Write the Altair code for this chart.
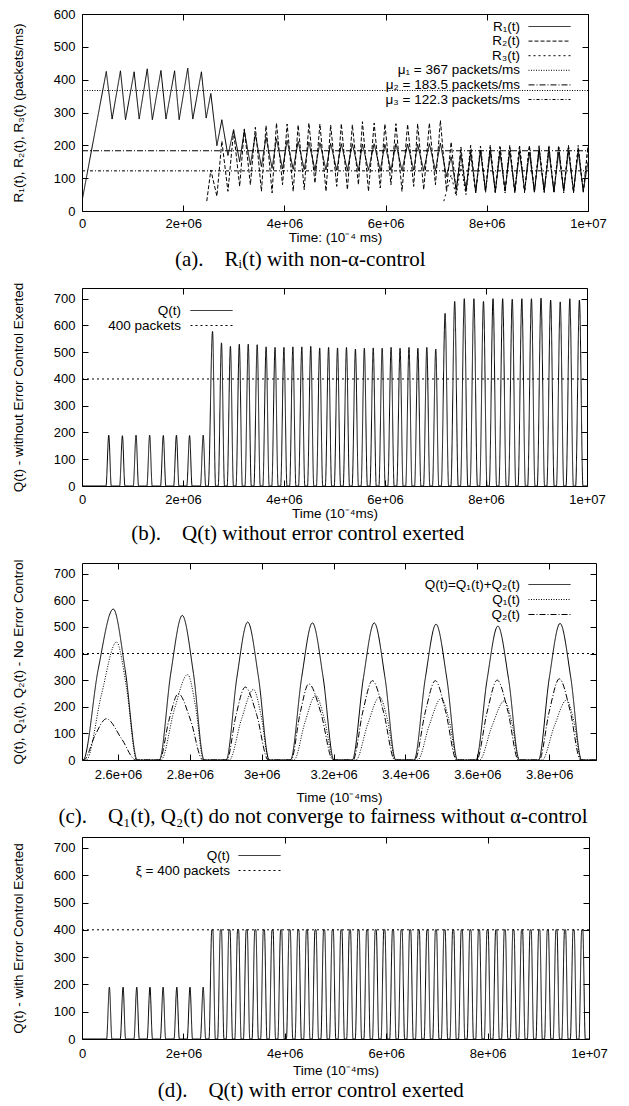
import altair as alt
import pandas as pd

SANS = "Liberation Sans"
SERIF = "Liberation Serif"
NEG_TICK = {"expr": "-6"}
LABEL_EXPR = "datum.value == 0 ? '0' : (datum.value == 10 ? '1e+07' : datum.value + 'e+06')"

# ---------------- (a)  R_i(t) with non-alpha-control  (time in units of 1e6) ----------------
A_T1 = [0.0, 0.48, 0.595, 0.76, 0.86, 1.03, 1.13, 1.29, 1.39, 1.56, 1.66, 1.83, 1.92, 2.09, 2.19, 2.36, 2.454]
A_T2 = [2.546, 2.666, 2.764, 2.884, 2.996, 3.116, 3.208, 3.328, 3.426, 3.546, 3.637, 3.757, 3.843, 3.963,
        4.054, 4.174, 4.272, 4.392, 4.484, 4.604, 4.702, 4.822, 4.914, 5.034, 5.125, 5.245, 5.343, 5.463,
        5.542, 5.662, 5.774, 5.894, 5.986, 6.106, 6.204, 6.324, 6.435, 6.555, 6.633, 6.753, 6.865, 6.985,
        7.083, 7.203]
A_T3 = [7.295, 7.395, 7.488, 7.588, 7.681, 7.781, 7.875, 7.975, 8.068, 8.168, 8.261, 8.361, 8.454, 8.554,
        8.647, 8.747, 8.841, 8.941, 9.034, 9.134, 9.227, 9.327, 9.420, 9.520, 9.614, 9.714, 9.807, 9.907, 10.0]

A_R1_V1 = [30, 425, 280, 427, 278, 424, 280, 433, 278, 428, 280, 427, 278, 435, 280, 424, 283]
A_R1_V2 = [358, 199, 278, 169, 248, 150, 245, 140, 232, 135, 225, 130, 220, 128, 215, 127, 212, 126, 210, 125,
           208, 125, 206, 124, 205, 124, 205, 123, 204, 124, 205, 123, 203, 124, 205, 123, 204, 124, 203, 123,
           205, 124, 207, 105]
A_R1_V3 = [165, 65, 172, 62, 180, 60, 182, 62, 180, 60, 178, 62, 182, 60, 180, 62, 178, 60, 182, 62, 180, 60,
           178, 62, 182, 60, 180, 62, 150]

A_R2_START_T = 2.466
A_R2_START_V = 30
A_R2_V2 = [125, 45, 213, 60, 243, 75, 250, 80, 255, 60, 260, 55, 268, 80, 265, 60, 262, 65, 268, 85, 265, 60,
           262, 75, 266, 65, 263, 80, 272, 60, 268, 70, 265, 80, 266, 60, 264, 75, 266, 65, 268, 80, 276, 62]
A_R2_V3 = [210, 55, 195, 58, 200, 55, 198, 60, 200, 55, 195, 58, 200, 55, 198, 60, 200, 55, 196, 58, 200, 55,
           198, 60, 200, 55, 195, 58, 200]

A_R3_START_T = 7.15
A_R3_START_V = 30
A_R3_V3 = [110, 45, 140, 50, 170, 55, 185, 55, 195, 58, 200, 55, 195, 58, 200, 55, 198, 58, 200, 55, 195, 58,
           200, 55, 198, 58, 200, 55, 195]

A_NAMES = ["R₁(t)", "R₂(t)", "R₃(t)", "μ₁ = 367 packets/ms", "μ₂ = 183.5 packets/ms", "μ₃ = 122.3 packets/ms"]
A_MU = [367, 183.5, 122.3]
A_DASHES = [[1, 0], [4, 2], [2, 3], [1, 1.5], [6, 2, 1, 2], [3, 2, 1, 2]]

# ---------------- (b)  Q(t) without error control ----------------
B_START = [0.475, 0.745, 1.015, 1.285, 1.555, 1.815, 2.075, 2.345,
           2.500, 2.697, 2.874, 3.050, 3.227, 3.404, 3.581, 3.758, 3.934, 4.111, 4.288, 4.465, 4.642, 4.818,
           4.995, 5.172, 5.349, 5.526, 5.702, 5.879, 6.056, 6.233, 6.410, 6.586, 6.763, 6.940,
           7.115, 7.305, 7.495, 7.685, 7.875, 8.065, 8.255, 8.445, 8.635, 8.825, 9.015, 9.205, 9.395, 9.585, 9.775]
B_PEAK_T = [0.53, 0.80, 1.07, 1.34, 1.61, 1.87, 2.13, 2.40,
            2.585, 2.762, 2.939, 3.115, 3.292, 3.469, 3.646, 3.823, 3.999, 4.176, 4.353, 4.530, 4.707, 4.883,
            5.060, 5.237, 5.414, 5.591, 5.767, 5.944, 6.121, 6.298, 6.475, 6.651, 6.828, 7.005,
            7.19, 7.38, 7.57, 7.76, 7.95, 8.14, 8.33, 8.52, 8.71, 8.90, 9.09, 9.28, 9.47, 9.66, 9.85]
B_PEAK_V = [190, 188, 190, 190, 189, 190, 189, 190,
            578, 535, 522, 530, 530, 528, 520, 518, 518, 520, 520, 522, 516, 518, 516, 518, 512, 515, 516, 515,
            518, 515, 518, 515, 518, 512,
            645, 690, 700, 700, 690, 700, 700, 698, 700, 700, 702, 695, 688, 700, 695]
B_END = [0.58, 0.85, 1.12, 1.39, 1.66, 1.92, 2.18, 2.45,
         2.645, 2.822, 2.999, 3.175, 3.352, 3.529, 3.706, 3.883, 4.059, 4.236, 4.413, 4.590, 4.767, 4.943,
         5.120, 5.297, 5.474, 5.651, 5.827, 6.004, 6.181, 6.358, 6.535, 6.711, 6.888, 7.065,
         7.26, 7.45, 7.64, 7.83, 8.02, 8.21, 8.40, 8.59, 8.78, 8.97, 9.16, 9.35, 9.54, 9.73, 9.92]
B_NAMES = ["Q(t)", "400 packets"]
B_REF = 400

# ---------------- (c)  Q1, Q2 zoom ----------------
C_Q_T = [2.5,
         2.503, 2.545, 2.587, 2.620, 2.654, 2.715, 2.747, 2.779, 2.810, 2.840,
         2.901, 2.931, 2.961, 2.991, 3.021, 3.080, 3.111, 3.141, 3.171, 3.201,
         3.252, 3.283, 3.313, 3.343, 3.373, 3.424, 3.455, 3.485, 3.515, 3.545,
         3.596, 3.627, 3.657, 3.687, 3.717, 3.770, 3.800, 3.830, 3.860, 3.890,
         3.93]
C_Q_V = [0,
         0, 340, 567, 340, 0, 0, 326, 543, 326, 0,
         0, 311, 518, 311, 0, 0, 309, 515, 309, 0,
         0, 309, 515, 309, 0, 0, 306, 510, 306, 0,
         0, 302, 503, 302, 0, 0, 308, 513, 308, 0,
         0]
C_Q1_T = [2.5,
          2.512, 2.554, 2.596, 2.624, 2.652, 2.720, 2.757, 2.794, 2.816, 2.838,
          2.910, 2.943, 2.977, 2.998, 3.020, 3.090, 3.120, 3.150, 3.175, 3.200,
          3.262, 3.295, 3.328, 3.350, 3.372, 3.434, 3.466, 3.499, 3.522, 3.544,
          3.606, 3.640, 3.675, 3.696, 3.716, 3.780, 3.814, 3.848, 3.869, 3.889,
          3.93]
C_Q1_V = [0,
          0, 245, 443, 270, 0, 0, 190, 321, 200, 0,
          0, 150, 265, 170, 0, 0, 140, 243, 150, 0,
          0, 135, 237, 150, 0, 0, 130, 231, 145, 0,
          0, 125, 222, 140, 0, 0, 127, 225, 142, 0,
          0]
C_Q2_T = [2.5,
          2.505, 2.537, 2.568, 2.610, 2.650, 2.716, 2.742, 2.768, 2.802, 2.836,
          2.903, 2.928, 2.954, 2.986, 3.018, 3.082, 3.106, 3.131, 3.165, 3.198,
          3.254, 3.281, 3.308, 3.339, 3.370, 3.426, 3.455, 3.483, 3.512, 3.542,
          3.598, 3.627, 3.655, 3.685, 3.714, 3.772, 3.800, 3.828, 3.858, 3.887,
          3.93]
C_Q2_V = [0,
          0, 95, 155, 80, 0, 0, 150, 249, 150, 0,
          0, 165, 274, 170, 0, 0, 170, 286, 175, 0,
          0, 180, 298, 180, 0, 0, 180, 298, 180, 0,
          0, 180, 300, 182, 0, 0, 183, 305, 185, 0,
          0]
C_NAMES = ["Q(t)=Q₁(t)+Q₂(t)", "Q₁(t)", "Q₂(t)"]
C_DASHES = [[1, 0], [1, 1.5], [6, 2, 1, 2]]
C_RANGE = [2.5, 3.93]
C_REF = 400

# ---------------- (d)  Q(t) with error control ----------------
D_SMALL_START = [0.485, 0.755, 1.025, 1.285, 1.545, 1.815, 2.075, 2.335]
D_SMALL_PEAK_T = [0.54, 0.81, 1.08, 1.34, 1.60, 1.87, 2.13, 2.39]
D_SMALL_PEAK_V = [190, 190, 190, 190, 190, 190, 190, 190]
D_SMALL_END = [0.59, 0.86, 1.13, 1.39, 1.65, 1.92, 2.18, 2.44]
D_UP = [2.505, 2.675, 2.844, 3.014, 3.184, 3.354, 3.523, 3.693, 3.863, 4.032, 4.202, 4.372, 4.541, 4.711,
        4.881, 5.051, 5.220, 5.390, 5.560, 5.729, 5.899, 6.069, 6.238, 6.408, 6.578, 6.748, 6.917, 7.087,
        7.257, 7.426, 7.596, 7.766, 7.935, 8.105, 8.275, 8.445, 8.614, 8.784, 8.954, 9.123, 9.293, 9.463,
        9.632, 9.802]
D_TOP_IN = [2.560, 2.730, 2.899, 3.069, 3.239, 3.409, 3.578, 3.748, 3.918, 4.087, 4.257, 4.427, 4.596, 4.766,
            4.936, 5.106, 5.275, 5.445, 5.615, 5.784, 5.954, 6.124, 6.293, 6.463, 6.633, 6.803, 6.972, 7.142,
            7.312, 7.481, 7.651, 7.821, 7.990, 8.160, 8.330, 8.500, 8.669, 8.839, 9.009, 9.178, 9.348, 9.518,
            9.687, 9.857]
D_TOP_OUT = [2.580, 2.750, 2.919, 3.089, 3.259, 3.429, 3.598, 3.768, 3.938, 4.107, 4.277, 4.447, 4.616, 4.786,
             4.956, 5.126, 5.295, 5.465, 5.635, 5.804, 5.974, 6.144, 6.313, 6.483, 6.653, 6.823, 6.992, 7.162,
             7.332, 7.501, 7.671, 7.841, 8.010, 8.180, 8.350, 8.520, 8.689, 8.859, 9.029, 9.198, 9.368, 9.538,
             9.707, 9.877]
D_DOWN = [2.630, 2.800, 2.969, 3.139, 3.309, 3.479, 3.648, 3.818, 3.988, 4.157, 4.327, 4.497, 4.666, 4.836,
          5.006, 5.176, 5.345, 5.515, 5.685, 5.854, 6.024, 6.194, 6.363, 6.533, 6.703, 6.873, 7.042, 7.212,
          7.382, 7.551, 7.721, 7.891, 8.060, 8.230, 8.400, 8.570, 8.739, 8.909, 9.079, 9.248, 9.418, 9.588,
          9.757, 9.927]
D_XI = 400
D_NAMES = ["Q(t)", "ξ = 400 packets"]

T_RANGE = [0, 10]
T_TICKS = [0, 2, 4, 6, 8, 10]
C_TICKS = [2.6, 2.8, 3.0, 3.2, 3.4, 3.6, 3.8]
Y_TICKS_A = [0, 100, 200, 300, 400, 500, 600]
Y_TICKS_Q = [0, 100, 200, 300, 400, 500, 600, 700]
SOLID_DOTTED = [[1, 0], [2, 3]]


# ---------------- build tables ----------------
def rows(name, ts, vs):
    return [{"series": name, "t": t, "v": v} for t, v in zip(ts, vs)]


a_rows = []
a_rows += rows(A_NAMES[0], A_T1 + A_T2 + A_T3, A_R1_V1 + A_R1_V2 + A_R1_V3)
a_rows += rows(A_NAMES[1], [A_R2_START_T] + A_T2 + A_T3, [A_R2_START_V] + A_R2_V2 + A_R2_V3)
a_rows += rows(A_NAMES[2], [A_R3_START_T] + A_T3, [A_R3_START_V] + A_R3_V3)
for name, mu in zip(A_NAMES[3:], A_MU):
    a_rows += rows(name, T_RANGE, [mu, mu])
df_a = pd.DataFrame(a_rows)

b_t, b_v = [T_RANGE[0]], [0]
for s, pt, pv, e in zip(B_START, B_PEAK_T, B_PEAK_V, B_END):
    b_t += [s, pt, e]
    b_v += [0, pv, 0]
b_t.append(T_RANGE[1])
b_v.append(0)
df_b = pd.DataFrame(rows(B_NAMES[0], b_t, b_v) + rows(B_NAMES[1], T_RANGE, [B_REF, B_REF]))

df_c = pd.DataFrame(rows(C_NAMES[0], C_Q_T, C_Q_V) + rows(C_NAMES[1], C_Q1_T, C_Q1_V)
                    + rows(C_NAMES[2], C_Q2_T, C_Q2_V))
df_c_ref = pd.DataFrame(rows("ref", C_RANGE, [C_REF, C_REF]))

d_t, d_v = [T_RANGE[0]], [0]
for s, pt, pv, e in zip(D_SMALL_START, D_SMALL_PEAK_T, D_SMALL_PEAK_V, D_SMALL_END):
    d_t += [s, pt, e]
    d_v += [0, pv, 0]
for u, ti, to, dn in zip(D_UP, D_TOP_IN, D_TOP_OUT, D_DOWN):
    d_t += [u, ti, to, dn]
    d_v += [0, D_XI, D_XI, 0]
d_t.append(T_RANGE[1])
d_v.append(0)
df_d = pd.DataFrame(rows(D_NAMES[0], d_t, d_v) + rows(D_NAMES[1], T_RANGE, [D_XI, D_XI]))


# ---------------- helpers ----------------
def x_axis(values, title, label_pad, title_pad):
    return alt.Axis(orient="bottom", values=values, labelExpr=LABEL_EXPR, title=title, tickSize=NEG_TICK,
                    labelPadding=label_pad, titlePadding=title_pad, grid=False, labelFlush=False,
                    labelOverlap=False)


def y_axis(values, title):
    return alt.Axis(orient="left", values=values, title=title, tickSize=NEG_TICK, labelPadding=13,
                    titlePadding=28, grid=False, labelOverlap=False)


def mirror(df, xs, ys, xvals, yvals):
    return alt.Chart(df).mark_point(opacity=0).encode(
        x=alt.X("t:Q", scale=xs, axis=alt.Axis(orient="top", values=xvals, labels=False, title=None,
                                               tickSize=NEG_TICK, grid=False)),
        y=alt.Y("v:Q", scale=ys, axis=alt.Axis(orient="right", values=yvals, labels=False, title=None,
                                               tickSize=NEG_TICK, grid=False)),
    )


def legend(x, y, row_pad, gap=9):
    # 14 px symbol "size" drawn as a 42 px long line sample, label right-aligned to its left
    return alt.Legend(title=None, orient="none", legendX=x, legendY=y, symbolType="M-3,0H3",
                      symbolSize=196, symbolStrokeWidth=1, symbolStrokeColor="black",
                      rowPadding=row_pad, labelAlign="right",
                      labelOffset={"expr": str(-(14 + 14 + gap))},
                      labelFont=SANS, labelFontSize=13.5, labelColor="black", labelLimit=0, padding=0)


def caption(text, offset, dx=0):
    return alt.TitleParams(text=text, orient="bottom", anchor="middle", frame="bounds", font=SERIF,
                           fontSize=21, fontWeight="normal", color="black", offset=offset, dx=dx)


def panel(df, names, dashes, xs, ys, xvals, yvals, xtitle, ytitle, xlpad, xtpad, leg, interp, extra=None,
          width=506, height=198, cap=None):
    main = alt.Chart(df).mark_line(color="black", strokeWidth=1, clip=True, interpolate=interp).encode(
        x=alt.X("t:Q", scale=xs, axis=x_axis(xvals, xtitle, xlpad, xtpad)),
        y=alt.Y("v:Q", scale=ys, axis=y_axis(yvals, ytitle)),
        strokeDash=alt.StrokeDash("series:N", scale=alt.Scale(domain=names, range=dashes), legend=leg),
    )
    layers = [main]
    if extra is not None:
        layers.append(extra)
    layers.append(mirror(df, xs, ys, xvals, yvals))
    return alt.layer(*layers).resolve_axis(x="independent", y="independent").properties(
        width=width, height=height, title=cap)


nb = "\u00a0\u00a0\u00a0\u00a0"
xs_full = alt.Scale(domain=T_RANGE, nice=False, zero=False)
ys_a = alt.Scale(domain=[0, 600], nice=False)
ys_q = alt.Scale(domain=[0, 740], nice=False)
xs_c = alt.Scale(domain=C_RANGE, nice=False, zero=False)

pa = panel(df_a, A_NAMES, A_DASHES, xs_full, ys_a, T_TICKS, Y_TICKS_A, "Time: (10⁻⁴ ms)",
           "R₁(t), R₂(t), R₃(t) (packets/ms)", 12, 0, legend(460, 5, 0.6), "linear",
           width=506, height=197, cap=caption("(a)." + nb + "Rᵢ(t) with non-α-control", 5, -8.5))

pb = panel(df_b, B_NAMES, SOLID_DOTTED, xs_full, ys_q, T_TICKS, Y_TICKS_Q, "Time (10⁻⁴ms)",
           "Q(t) - without Error Control Exerted", 13, 0, legend(122, 15, 1, 10), "monotone",
           width=505, height=198, cap=caption("(b)." + nb + "Q(t) without error control exerted", 3, -10.5))

c_ref = alt.Chart(df_c_ref).mark_line(color="black", strokeWidth=1, strokeDash=[2, 3]).encode(
    x=alt.X("t:Q", scale=xs_c, axis=None), y=alt.Y("v:Q", scale=ys_q, axis=None))
pc = panel(df_c, C_NAMES, C_DASHES, xs_c, ys_q, C_TICKS, Y_TICKS_Q, "Time (10⁻⁴ms)",
           "Q(t), Q₁(t), Q₂(t) - No Error Control", 14, 9.4, legend(460, 14, 1), "monotone", extra=c_ref,
           width=514, height=197,
           cap=caption("(c)." + nb + "Q₁(t), Q₂(t) do not converge to fairness without α-control", 2.5, 18))

pd_ = panel(df_d, D_NAMES, SOLID_DOTTED, xs_full, ys_q, T_TICKS, Y_TICKS_Q, "Time (10⁻⁴ms)",
            "Q(t) - with Error Control Exerted", 14, 3.7, legend(170, 11, 1), "monotone",
            width=507, height=202, cap=caption("(d)." + nb + "Q(t) with error control exerted", 2.5, 1.5))

chart = alt.vconcat(pa, pb, pc, pd_, spacing=77, bounds="flush").resolve_scale(
    x="independent", y="independent", strokeDash="independent").resolve_legend(
    strokeDash="independent").properties(
    padding={"left": 3, "top": 0, "right": 4, "bottom": 0}, background="white").configure_view(
    stroke=None).configure_axis(
    labelFont=SANS, labelFontSize=13, titleFont=SANS, titleFontSize=13.5, titleFontWeight="normal",
    labelColor="black", titleColor="black", tickColor="black", domainColor="black", grid=False)

chart.save("out.html", embed_options={"renderer": "svg", "actions": False})
